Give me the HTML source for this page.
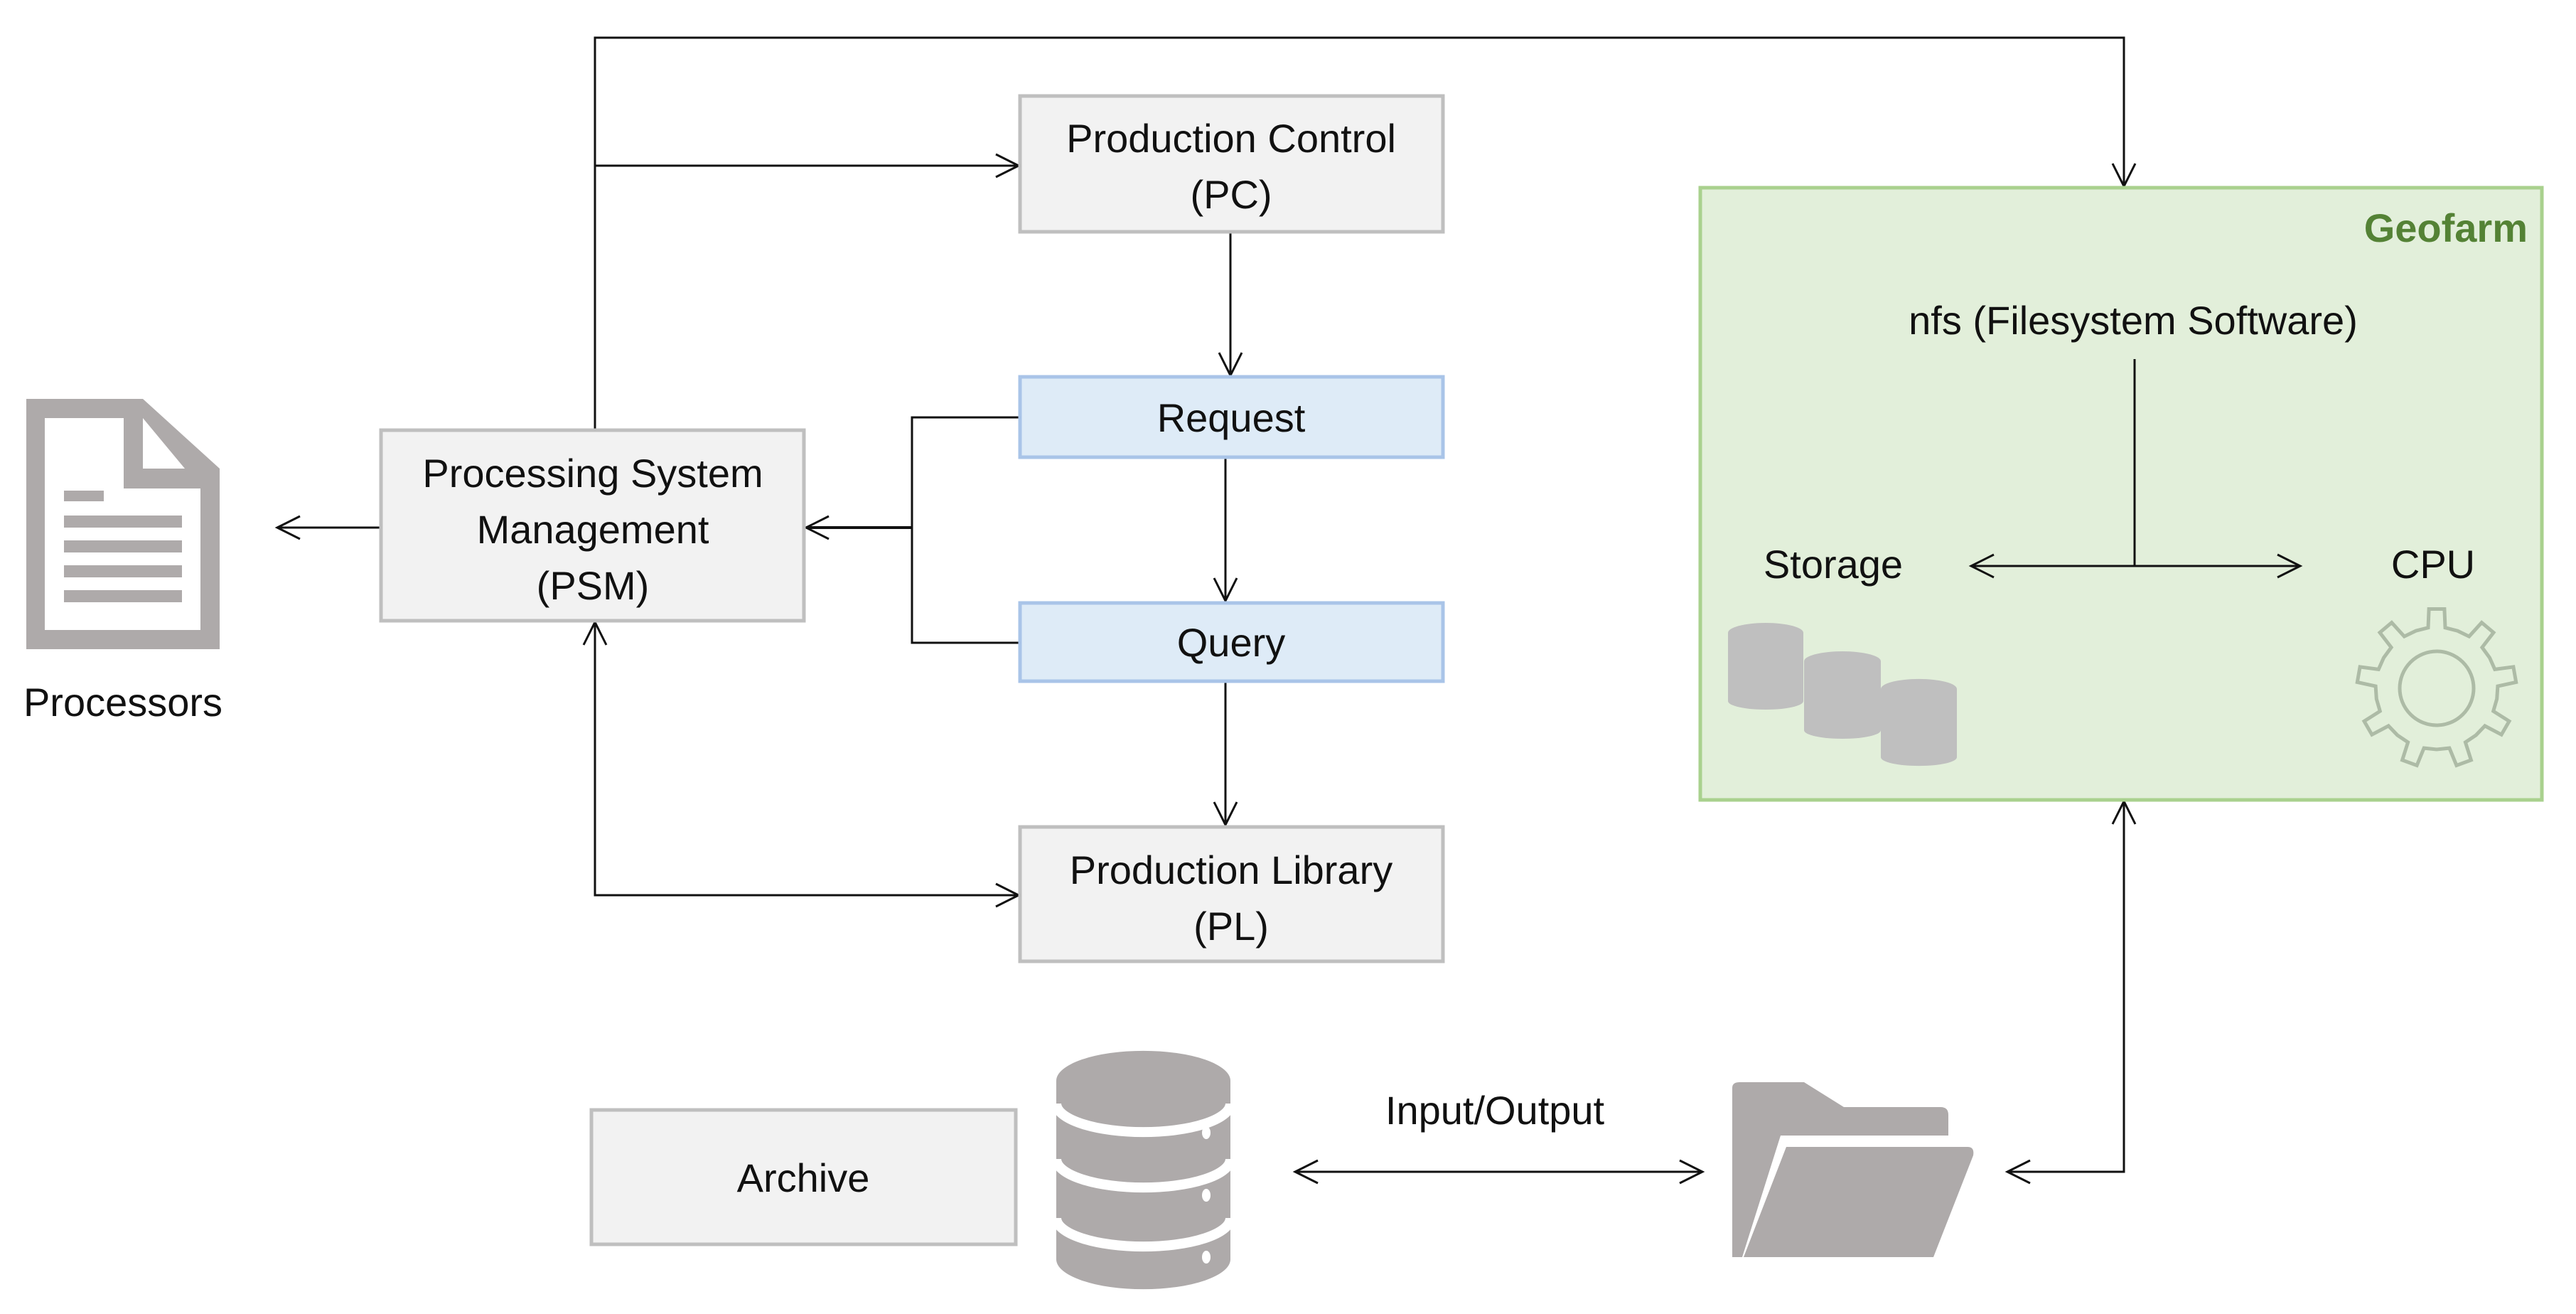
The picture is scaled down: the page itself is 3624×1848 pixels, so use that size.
<!DOCTYPE html>
<html><head><meta charset="utf-8"><style>
html,body{margin:0;padding:0;background:#fff}
svg{display:block}
text{font-family:"Liberation Sans",sans-serif;fill:#111}
</style></head><body>
<svg width="3624" height="1848" viewBox="0 0 3624 1848" xmlns="http://www.w3.org/2000/svg">
<defs>
<marker id="a" markerWidth="40" markerHeight="40" refX="36" refY="20" orient="auto-start-reverse" markerUnits="userSpaceOnUse">
<path d="M4,4 L36,20 L4,36" fill="none" stroke="#111" stroke-width="3"/>
</marker>
</defs>
<g stroke="#111" stroke-width="3" fill="none">
<polyline points="837,605 837,53 2988,53 2988,262" marker-end="url(#a)"/>
<line x1="837" y1="233" x2="1433" y2="233" marker-end="url(#a)"/>
<line x1="1731" y1="328" x2="1731" y2="528" marker-end="url(#a)"/>
<line x1="1724" y1="644" x2="1724" y2="845" marker-end="url(#a)"/>
<line x1="1724" y1="959" x2="1724" y2="1160" marker-end="url(#a)"/>
<polyline points="1435,587 1283,587 1283,904 1435,904"/>
<line x1="1283" y1="742" x2="1134" y2="742" marker-end="url(#a)" stroke-width="4"/>
<line x1="534" y1="742" x2="390" y2="742" marker-end="url(#a)"/>
<polyline points="837,875 837,1259 1433,1259" marker-start="url(#a)" marker-end="url(#a)"/>
<line x1="1822" y1="1648" x2="2395" y2="1648" marker-start="url(#a)" marker-end="url(#a)"/>
<polyline points="2824,1648 2988,1648 2988,1127" marker-start="url(#a)" marker-end="url(#a)"/>
</g>
<g stroke="#bfbfbf" stroke-width="5" fill="#f2f2f2">
<rect x="1435" y="135" width="595" height="191"/>
<rect x="536" y="605" width="595" height="268"/>
<rect x="1435" y="1163" width="595" height="189"/>
<rect x="832" y="1561" width="597" height="189"/>
</g>
<g stroke="#a9c4e8" stroke-width="5" fill="#deebf7">
<rect x="1435" y="530" width="595" height="113"/>
<rect x="1435" y="848" width="595" height="110"/>
</g>
<g font-size="56" text-anchor="middle">
<text x="1732" y="214">Production Control</text>
<text x="1732" y="293">(PC)</text>
<text x="1732" y="607">Request</text>
<text x="1732" y="923">Query</text>
<text x="1732" y="1243">Production Library</text>
<text x="1732" y="1322">(PL)</text>
<text x="834" y="685">Processing System</text>
<text x="834" y="764">Management</text>
<text x="834" y="843">(PSM)</text>
<text x="1130" y="1676">Archive</text>
<text x="173" y="1007">Processors</text>
<text x="2103" y="1581">Input/Output</text>
</g>
<path d="M37,561 L201,561 L309,659 L309,913 L37,913 Z" fill="#aeaaaa"/>
<path d="M63,588 L174,588 L174,687 L282,687 L282,886 L63,886 Z" fill="#fff"/>
<path d="M201,588 L201,659 L260,659 Z" fill="#fff"/>
<g fill="#aeaaaa">
<rect x="90" y="690" width="56" height="15"/>
<rect x="90" y="725" width="166" height="17"/>
<rect x="90" y="760" width="166" height="17"/>
<rect x="90" y="795" width="166" height="17"/>
<rect x="90" y="830" width="166" height="17"/>
</g>
<rect x="2392" y="264" width="1184" height="861" fill="#e2efda" stroke="#a9d18e" stroke-width="5"/>
<text x="3556" y="340" font-size="56" font-weight="bold" text-anchor="end" style="fill:#548235">Geofarm</text>
<text x="3001" y="470" font-size="56" text-anchor="middle">nfs (Filesystem Software)</text>
<text x="2579" y="813" font-size="56" text-anchor="middle">Storage</text>
<text x="3423" y="813" font-size="56" text-anchor="middle">CPU</text>
<g stroke="#111" stroke-width="3" fill="none">
<line x1="3003" y1="505" x2="3003" y2="796"/>
<line x1="2773" y1="796" x2="3236" y2="796" marker-start="url(#a)" marker-end="url(#a)"/>
</g>
<g fill="#bfbfbf">
<path d="M2431,890 A53,14 0 0 1 2537,890 L2537,986 A53,12 0 0 1 2431,986 Z"/>
<path d="M2538,930 A54,14 0 0 1 2646,930 L2646,1027 A54,12 0 0 1 2538,1027 Z"/>
<path d="M2646,969 A53,14 0 0 1 2753,969 L2753,1065 A53,12 0 0 1 2646,1065 Z"/>
</g>
<path id="gear" fill="none" stroke="#adbba6" stroke-width="5"/>
<circle cx="3428" cy="968" r="52" fill="none" stroke="#adbba6" stroke-width="5"/>
<g fill="#aeaaaa">
<path d="M1486,1520 A122,42 0 0 1 1731,1520 L1731,1771 A122,42 0 0 1 1486,1771 Z"/>
</g>
<g fill="none" stroke="#fff" stroke-width="14">
<path d="M1486,1552 A122,40 0 0 0 1731,1552"/>
<path d="M1486,1630 A122,40 0 0 0 1731,1630"/>
<path d="M1486,1713 A122,40 0 0 0 1731,1713"/>
</g>
<g fill="#fff">
<ellipse cx="1697" cy="1593" rx="6" ry="9"/>
<ellipse cx="1697" cy="1681" rx="6" ry="9"/>
<ellipse cx="1697" cy="1768" rx="6" ry="9"/>
</g>
<path d="M2437,1530 Q2437,1522 2447,1522 L2538,1522 L2594,1557 L2730,1557 Q2741,1557 2741,1568 L2741,1597 L2505,1597 L2451,1768 L2437,1768 Z" fill="#aeaaaa"/>
<path d="M2513,1613 L2768,1613 Q2778,1613 2776,1625 L2720,1768 L2453,1768 Z" fill="#aeaaaa"/>
</svg>
<script>
(function(){
var cx=3428,cy=968,R=112,r=86,n=9,d="";
for(var i=0;i<n;i++){
 var b=-Math.PI/2+i*2*Math.PI/n, s=2*Math.PI/n;
 var pts=[[r,b-s*0.5],[r,b-s*0.2],[R,b-s*0.14],[R,b+s*0.14],[r,b+s*0.2]];
 pts.forEach(function(p,j){
  var x=cx+p[0]*Math.cos(p[1]),y=cy+p[0]*Math.sin(p[1]);
  d+=(i==0&&j==0?"M":"L")+x.toFixed(1)+","+y.toFixed(1)+" ";
 });
}
document.getElementById("gear").setAttribute("d",d+"Z");
})();
</script>
</body></html>
